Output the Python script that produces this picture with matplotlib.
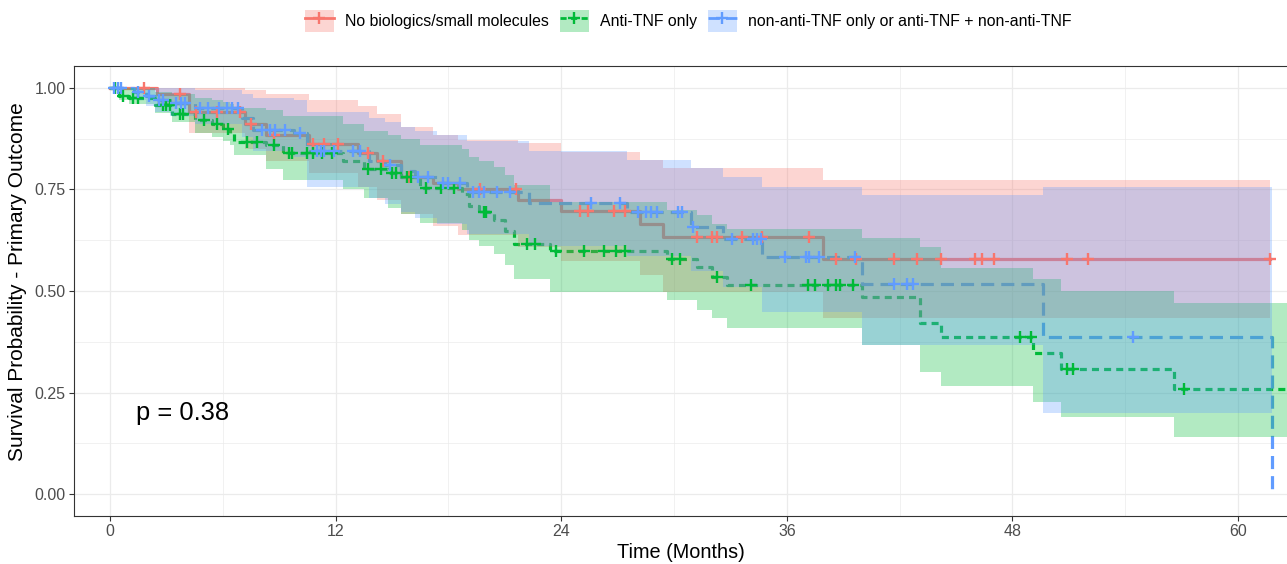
import numpy as np
import matplotlib
matplotlib.use("Agg")
from matplotlib import pyplot as plt
from matplotlib.patches import Patch
from matplotlib.lines import Line2D

plt.rcParams['font.family'] = ['Liberation Sans', 'DejaVu Sans']

# ---- data (months / survival probability) ----
groups = ['No biologics/small molecules', 'Anti-TNF only',
          'non-anti-TNF only or anti-TNF + non-anti-TNF']

red_t = [0, 2.5, 4.2, 7.2, 8.3, 10.6, 13.2, 14.2, 15.5, 17.2, 18.5, 21.7,
         24.0, 28.2, 29.4, 37.9]
red_s = [1.0, 0.985, 0.94, 0.91, 0.885, 0.862, 0.84, 0.82, 0.78, 0.765,
         0.75, 0.724, 0.697, 0.665, 0.633, 0.579]
red_lo = [1.0, 0.955, 0.89, 0.85, 0.82, 0.79, 0.755, 0.725, 0.69, 0.66,
          0.638, 0.608, 0.575, 0.54, 0.498, 0.433]
red_hi = [1.0, 1.0, 1.0, 0.995, 0.985, 0.97, 0.955, 0.935, 0.905, 0.885,
          0.872, 0.865, 0.843, 0.823, 0.803, 0.773]
red_end = 61.7
red_cens = [1.8, 3.7, 4.6, 5.7, 6.9, 7.5, 8.7, 10.8, 11.4, 12.1, 13.7, 14.5,
            15.9, 19.7, 21.6, 25.0, 25.4, 26.8, 27.4, 31.2, 32.0, 32.3, 33.6,
            34.7, 37.2, 38.6, 39.7, 41.7, 42.9, 44.2, 46.0, 46.4, 47.0, 50.9,
            52.0, 61.7]

green_t = [0, 0.5, 1.0, 2.4, 3.3, 4.5, 5.4, 6.0, 6.4, 6.6, 8.3, 9.2, 12.4,
           13.5, 14.8, 15.5, 16.5, 18.7, 19.1, 19.6, 20.4, 21.0, 21.5, 23.4,
           29.6, 31.2, 32.0, 32.8, 40.0, 43.1, 44.2, 49.1, 50.6, 56.6]
green_s = [1.0, 0.98, 0.975, 0.958, 0.936, 0.92, 0.91, 0.90, 0.89, 0.867,
           0.86, 0.84, 0.82, 0.80, 0.79, 0.78, 0.754, 0.74, 0.71, 0.695,
           0.675, 0.648, 0.615, 0.598, 0.58, 0.56, 0.535, 0.515, 0.485, 0.42,
           0.387, 0.347, 0.308, 0.258]
green_lo = [1.0, 0.97, 0.96, 0.938, 0.916, 0.89, 0.88, 0.87, 0.86, 0.835,
            0.80, 0.773, 0.75, 0.73, 0.705, 0.69, 0.667, 0.65, 0.625, 0.61,
            0.59, 0.565, 0.53, 0.498, 0.478, 0.453, 0.433, 0.409, 0.367, 0.30,
            0.266, 0.227, 0.19, 0.14]
green_hi = [1.0, 1.0, 1.0, 0.99, 0.985, 0.975, 0.97, 0.965, 0.96, 0.95,
            0.945, 0.93, 0.91, 0.895, 0.885, 0.875, 0.86, 0.85, 0.83, 0.82,
            0.805, 0.785, 0.76, 0.72, 0.70, 0.687, 0.665, 0.652, 0.63, 0.608,
            0.557, 0.53, 0.50, 0.47]
green_end = 64.0
green_cens = [0.27, 0.7, 1.2, 1.5, 2.8, 3.0, 3.2, 3.7, 3.9, 5.0, 5.7, 6.3, 7.3,
              7.8, 8.7, 9.5, 9.7, 10.5, 10.8, 11.3, 11.8, 13.7, 14.4, 15.0,
              15.2, 15.8, 16.0, 16.8, 17.6, 18.3, 19.9, 20.0, 22.2, 22.6, 23.7,
              25.2, 26.3, 26.9, 27.4, 29.9, 30.3, 32.3, 34.1, 37.1, 37.5, 38.2,
              38.6, 38.8, 39.5, 48.4, 49.0, 50.9, 51.2, 57.1]

blue_t = [0, 1.3, 1.9, 2.4, 3.2, 4.5, 7.0, 7.6, 9.8, 10.5, 13.8, 14.6, 15.5,
          16.2, 17.4, 19.0, 22.3, 27.5, 30.9, 32.6, 34.7, 40.0, 49.6, 61.8]
blue_s = [1.0, 0.99, 0.98, 0.97, 0.963, 0.95, 0.925, 0.897, 0.89, 0.845, 0.82,
          0.81, 0.795, 0.78, 0.766, 0.744, 0.717, 0.695, 0.658, 0.628, 0.583,
          0.517, 0.387, 0.0]
blue_lo = [1.0, 0.97, 0.955, 0.94, 0.93, 0.91, 0.88, 0.845, 0.83, 0.756, 0.73,
           0.715, 0.695, 0.68, 0.665, 0.64, 0.61, 0.585, 0.55, 0.51, 0.448,
           0.367, 0.20, 0.20]
blue_hi = [1.0, 1.0, 1.0, 1.0, 1.0, 0.995, 0.985, 0.975, 0.97, 0.94, 0.925,
           0.915, 0.905, 0.895, 0.885, 0.87, 0.845, 0.823, 0.803, 0.78, 0.756,
           0.736, 0.756, 0.756]
blue_end = 61.8
blue_cens = [0.2, 0.4, 0.6, 1.5, 2.1, 2.6, 2.8, 3.5, 3.8, 4.0, 4.8, 5.2, 5.8,
             6.2, 6.5, 6.8, 8.1, 8.5, 8.8, 9.3, 10.1, 11.0, 11.2, 11.4, 11.9,
             12.9, 13.3, 14.9, 16.4, 16.9, 17.7, 18.0, 18.6, 19.3, 19.6, 19.9,
             20.6, 21.3, 25.6, 27.1, 28.1, 28.5, 28.8, 29.1, 30.2, 30.4, 31.0,
             33.1, 34.2, 34.4, 34.6, 35.9, 37.0, 37.2, 37.7, 39.6, 41.7, 42.4,
             42.7, 54.4]

pval_text = 'p = 0.38'

colors = ['#F8766D', '#00BA38', '#619CFF']
dashes = [None, (2.2, 1.6), (4.1, 2.2)]

curves = [
    (red_t, red_s, red_lo, red_hi, red_end, red_cens),
    (green_t, green_s, green_lo, green_hi, green_end, green_cens),
    (blue_t, blue_s, blue_lo, blue_hi, blue_end, blue_cens),
]

fig = plt.figure(figsize=(12.87, 5.64), dpi=100)
ax = fig.add_axes([74 / 1287, 1 - 516 / 564, (1287 - 74) / 1287, (516 - 66) / 564])

# lines first, ribbons over them, censor ticks on top
for (t, s, lo, hi, end, cens), c, d in zip(curves, colors, dashes):
    tt = np.append(t, end)
    ss = np.append(s, s[-1])
    line, = ax.step(tt, ss, where='post', color=c, lw=2.3, zorder=2)
    if d is not None:
        line.set_dashes(d)
    ax.fill_between(tt, np.append(lo, lo[-1]), np.append(hi, hi[-1]),
                    step='post', color=c, alpha=0.3, lw=0, zorder=3)
    idx = np.searchsorted(t, cens, side='right') - 1
    ax.plot(cens, np.array(s)[idx], ls='none', marker='+', ms=8.5, mew=1.7,
            color=c, zorder=4)

ax.text(1.4, 0.2, pval_text, fontsize=18.4, ha='left', va='center')

ax.set_xlim(-1.915, 62.6)
ax.set_ylim(-0.054, 1.054)
ax.set_xticks([0, 12, 24, 36, 48, 60])
ax.set_xticks([6, 18, 30, 42, 54], minor=True)
ax.set_yticks([0, 0.25, 0.5, 0.75, 1.0])
ax.set_yticks([0.125, 0.375, 0.625, 0.875], minor=True)
ax.set_yticklabels(['0.00', '0.25', '0.50', '0.75', '1.00'])
ax.grid(which='major', color='#EBEBEB', lw=0.9, zorder=0)
ax.grid(which='minor', color='#EBEBEB', lw=0.5, zorder=0)
ax.set_axisbelow(True)
ax.tick_params(which='major', length=3.5, color='#333333', labelsize=11.5,
               labelcolor='#4D4D4D', width=0.8, pad=2.5)
ax.tick_params(which='minor', length=0)
for sp in ax.spines.values():
    sp.set_color('#333333')
    sp.set_linewidth(0.8)
ax.spines['right'].set_visible(False)

ax.set_xlabel('Time (Months)', fontsize=14.3, labelpad=3)
ax.set_ylabel('Survival Probability - Primary Outcome', fontsize=15)
ax.yaxis.set_label_coords(-0.039, 0.52)

handles = []
for c, d in zip(colors, dashes):
    ln = Line2D([], [], color=c, lw=2.0, marker='+', ms=8.5, mew=1.7)
    if d is not None:
        ln.set_dashes(d)
    handles.append((Patch(facecolor=c, alpha=0.3, lw=0), ln))
fig.legend(handles, groups, loc='center', bbox_to_anchor=(0.5346, 0.963),
           ncol=3, frameon=False, fontsize=11.4, handlelength=1.83,
           handleheight=1.77, handletextpad=0.7, columnspacing=0.7)

fig.savefig('out.png', dpi=100)
